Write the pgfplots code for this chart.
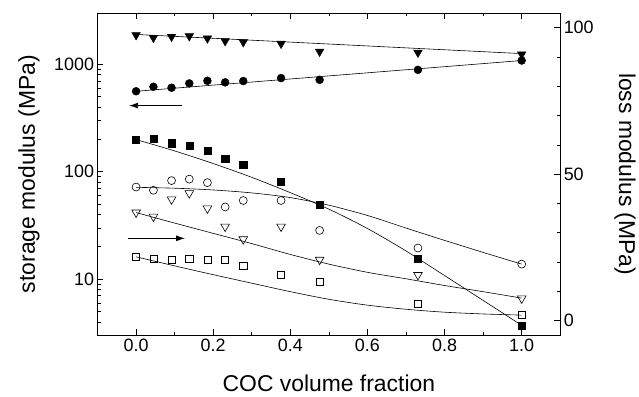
\documentclass[border=0pt]{standalone}
\usepackage{fontspec}
\setmainfont{Liberation Sans}
\usepackage{pgfplots}
\pgfplotsset{compat=1.18}
\usetikzlibrary{arrows.meta}
\begin{document}
\begin{tikzpicture}
\pgfplotsset{
  every axis/.append style={
    scale only axis, width=465pt, height=324pt,
    xmin=-0.1, xmax=1.1,
    tick label style={font=\fontsize{18}{20}\selectfont},
    label style={font=\fontsize{23}{26}\selectfont},
    /pgf/number format/assume math mode=true,
    /pgf/number format/1000 sep={},
    major tick length=6pt, minor tick length=3.5pt,
    tick style={black, line width=0.6pt},
    axis line style={line width=0.8pt},
    tick align=inside,
  },
  fitl/.style={black, line width=0.6pt, no marks, smooth},
}
\begin{axis}[
  name=ax1,
  ymode=log, ymin=3, ymax=3000,
  log ticks with fixed point,
  xtick={0,0.2,...,1.0},
  minor xtick={-0.1,0.1,0.3,0.5,0.7,0.9,1.1},
  xticklabels={0.0,0.2,0.4,0.6,0.8,1.0},
  xtick pos=both, ytick pos=left,
  xlabel={COC volume fraction},
  ylabel={storage modulus (MPa)},
  xlabel style={at={(axis description cs:0.5,-0.148)}, anchor=center},
  ylabel style={at={(axis description cs:-0.148,0.5)}, anchor=center},
  clip=false,
]
% storage modulus, filled triangles
\addplot[only marks, mark=triangle*, mark size=5pt, mark options={rotate=180, fill=black}] coordinates {
(0,1865) (0.045,1764) (0.092,1803) (0.138,1825) (0.185,1738) (0.231,1641) (0.278,1607) (0.376,1553) (0.476,1310) (0.731,1282) (1.0,1237)};
\addplot[fitl] coordinates {(0,1892) (1.0,1255)};
% filled circles
\addplot[only marks, mark=*, mark size=4pt, mark options={fill=black}] coordinates {
(0,560) (0.045,617) (0.092,604) (0.138,663) (0.185,701) (0.231,678) (0.278,697) (0.376,743) (0.476,716) (0.731,886) (1.0,1082)};
\addplot[fitl] coordinates {(0,560) (1.0,1082)};
% filled squares
\addplot[only marks, mark=square*, mark size=3.6pt, mark options={fill=black}] coordinates {
(0,200) (0.045,203) (0.092,184) (0.138,176) (0.185,158) (0.231,132) (0.278,116) (0.376,81.3) (0.476,49.2) (0.731,15.6) (1.0,3.7)};
\addplot[fitl] coordinates {(0,199) (0.1,156) (0.2,119) (0.3,88.6) (0.4,63.8) (0.5,44.8) (0.6,29.6) (0.7,18.3) (0.8,10.8) (0.9,6.34) (1.0,3.72)};
\draw[-{Latex[length=9pt,width=6pt]}, line width=0.8pt] (axis cs:0.118,412) -- (axis cs:-0.018,412);
\end{axis}
\begin{axis}[
  axis x line=none,
  axis y line*=right,
  ymin=-5, ymax=105,
  ytick={0,50,100},
  minor ytick={10,20,30,40,60,70,80,90},
  ylabel={loss modulus (MPa)},
  ylabel style={at={(axis description cs:1.140,0.5)}, anchor=center, rotate=180},
  clip=false,
]
\addplot[only marks, mark=o, mark size=4pt, line width=0.6pt] coordinates {
(0,45.6) (0.045,44.5) (0.092,47.8) (0.138,48.3) (0.185,47.1) (0.231,38.8) (0.278,41.0) (0.376,41.0) (0.476,30.8) (0.731,24.8) (1.0,19.3)};
\addplot[fitl] coordinates {(0,45.5) (0.1,45.2) (0.2,44.6) (0.3,43.6) (0.4,42.0) (0.5,39.4) (0.6,35.9) (0.7,31.6) (0.8,27.4) (0.9,23.3) (1.0,19.3)};
\addplot[only marks, mark=triangle, mark size=5pt, mark options={rotate=180}, line width=0.6pt] coordinates {
(0,36.9) (0.045,35.5) (0.092,41.4) (0.138,43.5) (0.185,38.3) (0.231,32.1) (0.278,27.8) (0.376,32.1) (0.476,20.8) (0.731,15.6) (1.0,7.6)};
\addplot[fitl] coordinates {(0,36.9) (0.1,33.3) (0.2,29.8) (0.3,26.3) (0.4,22.6) (0.5,19.3) (0.6,16.5) (0.7,14.3) (0.8,12.0) (0.9,9.9) (1.0,7.7)};
\addplot[only marks, mark=square, mark size=3.6pt, line width=0.6pt] coordinates {
(0,21.8) (0.045,21.0) (0.092,20.9) (0.138,21.1) (0.185,20.8) (0.231,20.8) (0.278,18.6) (0.376,15.7) (0.476,13.3) (0.731,5.8) (1.0,1.9)};
\addplot[fitl] coordinates {(0,21.8) (0.1,18.7) (0.2,15.7) (0.3,12.8) (0.4,9.9) (0.5,7.3) (0.6,5.3) (0.7,3.9) (0.8,2.9) (0.9,2.3) (1.0,1.9)};
\draw[-{Latex[length=9pt,width=6pt]}, line width=0.8pt] (axis cs:-0.022,28.1) -- (axis cs:0.127,28.1);
\end{axis}
\path (ax1.south west) ++(-98pt,-61pt) rectangle ++(639pt,398pt);
\end{tikzpicture}
\end{document}
